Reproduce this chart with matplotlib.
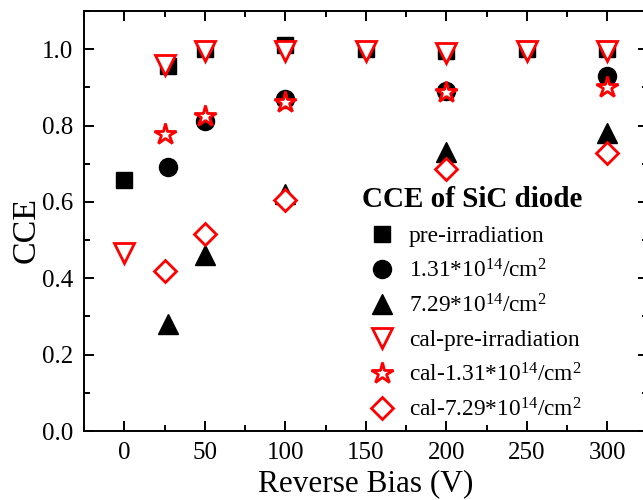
import matplotlib
matplotlib.use('Agg')
import matplotlib.pyplot as plt
from matplotlib.ticker import MultipleLocator

plt.rcParams['font.family'] = ['Liberation Serif', 'DejaVu Serif']
plt.rcParams['mathtext.fontset'] = 'custom'
plt.rcParams['mathtext.rm'] = 'Liberation Serif'
plt.rcParams['mathtext.it'] = 'Liberation Serif:italic'

# measured CCE (black, filled)
biasPre = [0, 27, 50, 100, 150, 200, 250, 300]
ccePre = [0.657, 0.955, 1.0, 1.01, 1.0, 0.995, 1.0, 1.0]
biasIrr = [27, 50, 100, 200, 300]
cce131 = [0.692, 0.811, 0.869, 0.89, 0.93]
cce729 = [0.28, 0.46, 0.62, 0.73, 0.78]

# calculated CCE (red, open)
biasCalPre = [0, 25, 50, 100, 150, 200, 250, 300]
calPre = [0.465, 0.958, 0.995, 0.995, 0.995, 0.99, 0.995, 0.995]
biasCal = [25, 50, 100, 200, 300]
cal131 = [0.778, 0.825, 0.862, 0.888, 0.9]
cal729 = [0.418, 0.516, 0.605, 0.686, 0.727]

labels = ['pre-irradiation',
          r'1.31*10$^{14}$/cm$^{2}$',
          r'7.29*10$^{14}$/cm$^{2}$',
          'cal-pre-irradiation',
          r'cal-1.31*10$^{14}$/cm$^{2}$',
          r'cal-7.29*10$^{14}$/cm$^{2}$']

fig = plt.figure(figsize=(6.43, 5.0), dpi=100)
ax = fig.add_axes([84/643, 69/500, (647.5-84)/643, 420/500])

ew = 2.0
ax.plot(biasPre, ccePre, 's', color='black', ms=12, ls='none', label=labels[0])
ax.plot(biasIrr, cce131, 'o', color='black', ms=13, ls='none', label=labels[1])
ax.plot(biasIrr, cce729, '^', color='black', ms=14, ls='none', label=labels[2])
ax.plot(biasCalPre, calPre, 'v', mec='red', mfc='white', mew=ew, ms=14, ls='none', label=labels[3])
ax.plot(biasCal, cal131, '*', mec='red', mfc='white', mew=ew, ms=16, ls='none', label=labels[4])
ax.plot(biasCal, cal729, 'D', mec='red', mfc='white', mew=ew, ms=11, ls='none', label=labels[5])

ax.set_xlim(-25, 325)
ax.set_ylim(0, 1.1)
ax.xaxis.set_major_locator(MultipleLocator(50))
ax.xaxis.set_minor_locator(MultipleLocator(25))
ax.yaxis.set_major_locator(MultipleLocator(0.2))
ax.yaxis.set_minor_locator(MultipleLocator(0.1))
ax.yaxis.set_major_formatter(matplotlib.ticker.FormatStrFormatter('%.1f'))
ax.tick_params(which='both', direction='in', top=True, right=True, width=1.4, labelsize=18, pad=8)
ax.tick_params(which='major', length=7)
ax.tick_params(which='minor', length=4)
for s in ax.spines.values():
    s.set_linewidth(1.4)

ax.set_xlabel('Reverse Bias (V)', fontsize=22.5, labelpad=4)
ax.set_ylabel('CCE', fontsize=24.5)
ax.yaxis.set_label_coords(-0.075, 0.479)

leg = ax.legend(loc='upper left', bbox_to_anchor=(0.477, 0.605), frameon=False,
                fontsize=16.8, title='CCE of SiC diode',
                title_fontproperties={'weight': 'bold', 'size': 21},
                handletextpad=0.3, labelspacing=0.52, handlelength=1.7,
                borderaxespad=0)
leg._legend_box.align = 'left'

fig.savefig('out.png', dpi=100)
